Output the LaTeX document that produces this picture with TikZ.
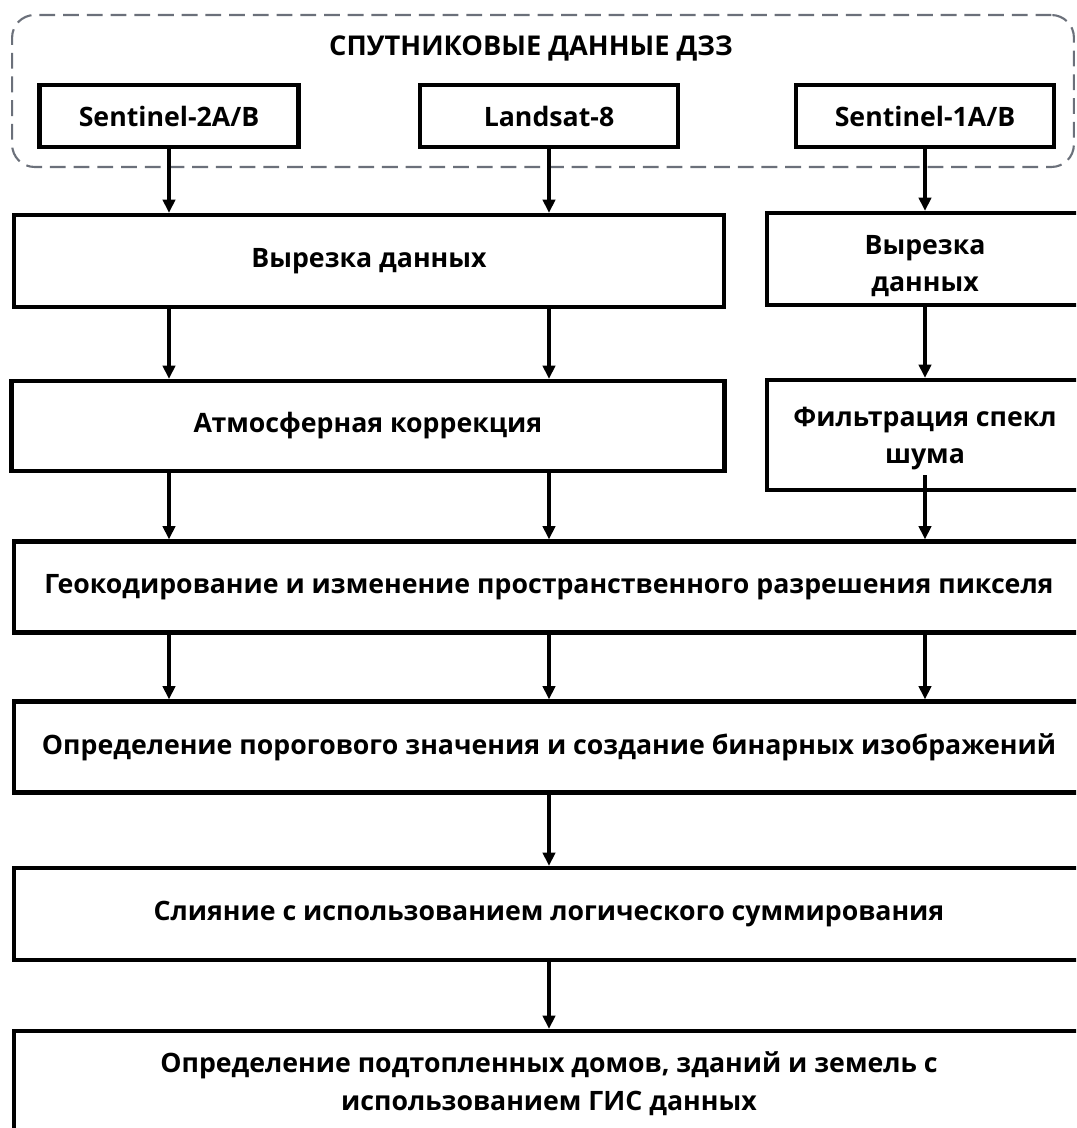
\documentclass[tikz,border=0pt]{standalone}
\usepackage{fontspec}
\setmainfont{Open Sans}
\usetikzlibrary{arrows.meta}
\definecolor{framegray}{HTML}{6B707A}
\begin{document}
\begin{tikzpicture}[
    x=0.02cm, y=-0.02cm,
    stepbox/.style={draw=black, line width=2.5pt, fill=white, align=center, inner sep=0pt,
        font=\fontsize{15.2}{21.5}\selectfont\bfseries},
    groupbox/.style={draw=framegray, line width=1.2pt, dash pattern=on 9pt off 4.5pt,
        rounded corners=0.45cm, inner sep=0pt},
    arr/.style={-{Triangle[length=7.5pt, width=7pt]}, line width=1.8pt}
]
    \clip (0,0) rectangle (1076,1128);
    \useasboundingbox (0,0) rectangle (1076,1128);

    \node[groupbox, minimum width=21.24cm, minimum height=3.04cm] at (543,91) (sat) {};
    \node[font=\fontsize{15.5}{18}\selectfont\bfseries] at (531,48) (title) {СПУТНИКОВЫЕ ДАННЫЕ ДЗЗ};

    \node[stepbox, minimum width=5.18cm, minimum height=1.24cm] at (169,116) (s2) {Sentinel-2A/B};
    \node[stepbox, minimum width=5.16cm, minimum height=1.24cm] at (549,116) (ls) {Landsat-8};
    \node[stepbox, minimum width=5.16cm, minimum height=1.24cm] at (925,116) (s1) {Sentinel-1A/B};

    \node[stepbox, minimum width=14.2cm, minimum height=1.84cm] at (369,261) (cut) {Вырезка данных};
    \node[stepbox, minimum width=6.32cm, minimum height=1.84cm] at (925,259) (cutr)
        {\rule{0pt}{19pt}Вырезка\\данных};

    \node[stepbox, minimum width=14.26cm, minimum height=1.8cm] at (368,426) (atm) {Атмосферная коррекция};
    \node[stepbox, minimum width=6.32cm, minimum height=2.2cm] at (925,435) (spk)
        {\rule{0pt}{15pt}Фильтрация спекл\\шума};

    \node[stepbox, minimum width=21.4cm, minimum height=1.82cm] at (549,587) (geo)
        {Геокодирование и изменение пространственного разрешения пикселя};
    \node[stepbox, minimum width=21.4cm, minimum height=1.82cm] at (549,747) (thr)
        {Определение порогового значения и создание бинарных изображений};
    \node[stepbox, minimum width=21.4cm, minimum height=1.84cm] at (549,914) (mrg)
        {Слияние с использованием логического суммирования};
    \node[stepbox, minimum width=21.4cm, minimum height=2cm] at (549,1081) (gis)
        {\rule{0pt}{15pt}Определение подтопленных домов, зданий и земель с\\использованием ГИС данных};

    % satellites to cutting
    \draw[arr] (s2.south) -- (s2.south |- cut.north);
    \draw[arr] (ls.south) -- (ls.south |- cut.north);
    \draw[arr] (s1.south) -- (s1.south |- cutr.north);

    \draw[arr] (cut.south -| s2) -- (atm.north -| s2);
    \draw[arr] (cut.south -| ls) -- (atm.north -| ls);
    \draw[arr] (cutr.south) -- (spk.north);

    \draw[arr] (atm.south -| s2) -- (geo.north -| s2);
    \draw[arr] (atm.south -| ls) -- (geo.north -| ls);
    \draw[arr] ([yshift=0.34cm]spk.south) -- (spk.south |- geo.north);

    \draw[arr] (geo.south -| s2) -- (thr.north -| s2);
    \draw[arr] (geo.south -| ls) -- (thr.north -| ls);
    \draw[arr] (geo.south -| s1) -- (thr.north -| s1);

    \draw[arr] (thr.south -| ls) -- (mrg.north -| ls);
    \draw[arr] (mrg.south -| ls) -- (gis.north -| ls);
\end{tikzpicture}
\end{document}
